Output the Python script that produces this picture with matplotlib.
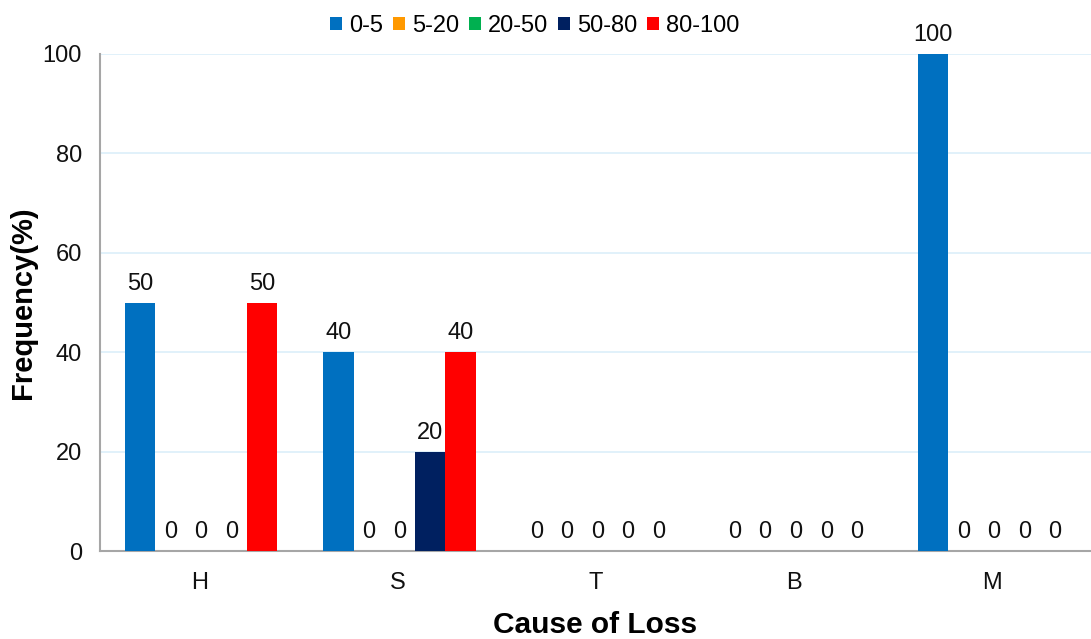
import numpy as np
import matplotlib.pyplot as plt

plt.rcParams['font.family'] = ['Liberation Sans', 'DejaVu Sans']

causes = ["H", "S", "T", "B", "M"]
bins = ["0-5", "5-20", "20-50", "50-80", "80-100"]
freq_0_5 = [50, 40, 0, 0, 100]
freq_5_20 = [0, 0, 0, 0, 0]
freq_20_50 = [0, 0, 0, 0, 0]
freq_50_80 = [0, 20, 0, 0, 0]
freq_80_100 = [50, 40, 0, 0, 0]
series = [freq_0_5, freq_5_20, freq_20_50, freq_50_80, freq_80_100]
colors = ["#0070C0", "#FF9900", "#00B050", "#002060", "#FF0000"]

fig = plt.figure(figsize=(10.91, 6.39), dpi=100)
ax = fig.add_axes([0.0917, 0.1377, 0.9083, 0.7778])

x = np.arange(len(causes))
width = 0.154
for i, (vals, col, lab) in enumerate(zip(series, colors, bins)):
    pos = x + (i - 2) * width + 0.01
    ax.bar(pos, vals, width, color=col, label=lab, zorder=3)
    for p, v in zip(pos, vals):
        ax.text(p, v + 1.6, f"{v}", ha="center", va="bottom", fontsize=17,
                color="#111111", clip_on=False)

ax.set_xlim(-0.5, 4.5)
ax.set_ylim(0, 100)
ax.set_yticks(np.arange(0, 101, 20))
ax.set_xticks(x)
ax.set_xticklabels(causes)
ax.tick_params(axis="both", length=0, labelsize=17, colors="#111111")
ax.tick_params(axis="x", pad=15)
ax.tick_params(axis="y", pad=13)
ax.yaxis.grid(True, color="#DCEFF9", linewidth=1.2, zorder=0)
ax.set_axisbelow(True)
for s in ["top", "right"]:
    ax.spines[s].set_visible(False)
for s in ["left", "bottom"]:
    ax.spines[s].set_color("#A6A6A6")
    ax.spines[s].set_linewidth(1.5)

ax.set_xlabel("Cause of Loss", fontsize=21.5, fontweight="bold", labelpad=12)
ax.set_ylabel("Frequency(%)", fontsize=21, fontweight="bold", labelpad=4)

fig.legend(loc="upper center", bbox_to_anchor=(0.49, 1.01), ncol=5, frameon=False,
           fontsize=17, handlelength=0.5, handleheight=0.5, handletextpad=0.3,
           columnspacing=0.42)

fig.savefig("out.png", dpi=100)
